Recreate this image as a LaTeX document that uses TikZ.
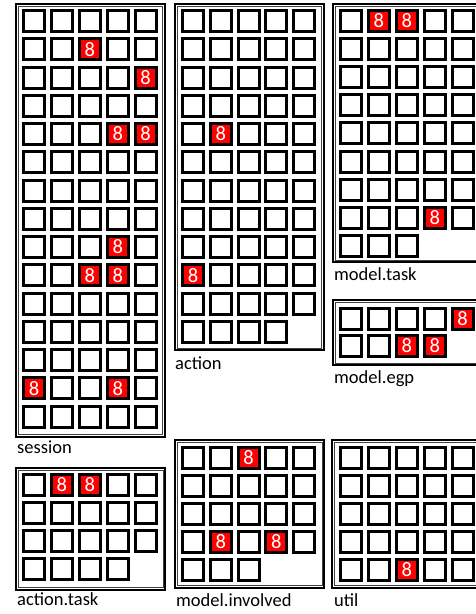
\documentclass[tikz,border=0pt]{standalone}
\usepackage{fontspec}
\setmainfont{Carlito}
\newcommand\hotcells[2]{\foreach \h in {#2}{\expandafter\xdef\csname hot@#1-\h\endcsname{}}}
\newcommand\cellgrid[7]{% name, x0, y0, pitch x, pitch y, rows, cells in last row
  \foreach \rr in {1,...,#6}{
    \foreach \cc in {1,...,5}{
      \pgfmathtruncatemacro\lastc{\rr==#6 ? #7 : 5}
      \ifnum\cc>\lastc\relax\else
        \ifcsname hot@#1-\rr-\cc\endcsname\def\cf{red}\def\ct{8}\else\def\cf{white}\def\ct{}\fi
        \node[cell, fill=\cf] (#1-\rr-\cc) at ({#2+(\cc-1)*#4},{#3+(\rr-1)*#5}) {\ct};
      \fi
    }
  }
}
\newcommand\groupframe[4]{% outer corner x1,y1 and x2,y2
  \draw[frameouter] (#1+0.8,#2+0.8) rectangle (#3-0.8,#4-0.8);
  \draw[frameinner] (#1+3,#2+3) rectangle (#3-3,#4-3);
}
\tikzset{
  cell/.style={draw=black, line width=3pt, minimum size=21pt, inner sep=0pt,
    text=white, font=\fontsize{20.5}{20}\selectfont},
  frameouter/.style={draw=black, line width=1.6pt},
  frameinner/.style={draw=black!75, line width=0.9pt},
  grouplabel/.style={anchor=base west, inner sep=0pt, text=black,
    font=\fontsize{18.5}{20}\selectfont}
}
\hotcells{session}{2-3,3-5,5-4,5-5,9-4,10-3,10-4,14-1,14-4}
\hotcells{action}{5-2,10-1}
\hotcells{mtask}{1-2,1-3,8-4}
\hotcells{megp}{1-5,2-3,2-4}
\hotcells{atask}{1-2,1-3}
\hotcells{minv}{1-3,4-2,4-4}
\hotcells{util}{5-3}
\begin{document}
\begin{tikzpicture}[x=1pt,y=-1pt]
  \useasboundingbox (0,0) rectangle (476,614);
  \fill[white] (0,0) rectangle (476,614);
  \clip (0,0) rectangle (476,614);
  % group frames
  \groupframe{15}{3}{165.5}{437.5}
  \groupframe{174}{3}{324.5}{351}
  \groupframe{332}{3}{500}{263}
  \groupframe{332}{299}{500}{366}
  \groupframe{15}{467}{166}{590.5}
  \groupframe{174}{439}{325}{588.5}
  \groupframe{331}{439}{500}{588.5}
  % cells
  \cellgrid{session}{34}{21}{27.9}{28.25}{15}{5}
  \cellgrid{action}{193}{21}{27.8}{28.25}{12}{4}
  \cellgrid{mtask}{351}{21}{27.9}{28.1}{9}{3}
  \cellgrid{megp}{351}{318.5}{27.9}{27.5}{2}{4}
  \cellgrid{atask}{34}{485}{27.9}{28}{4}{4}
  \cellgrid{minv}{193}{458}{27.8}{28}{5}{3}
  \cellgrid{util}{351}{458}{27.9}{28}{5}{5}
  % labels
  \node[grouplabel] (l-session) at (17,453) {session};
  \node[grouplabel] (l-action) at (175,369) {action};
  \node[grouplabel] (l-mtask) at (334,280) {model.task};
  \node[grouplabel] (l-megp) at (334,383) {model.egp};
  \node[grouplabel] (l-atask) at (17,605) {action.task};
  \node[grouplabel] (l-minv) at (176,606) {model.involved};
  \node[grouplabel] (l-util) at (334,606) {util};
\end{tikzpicture}
\end{document}
